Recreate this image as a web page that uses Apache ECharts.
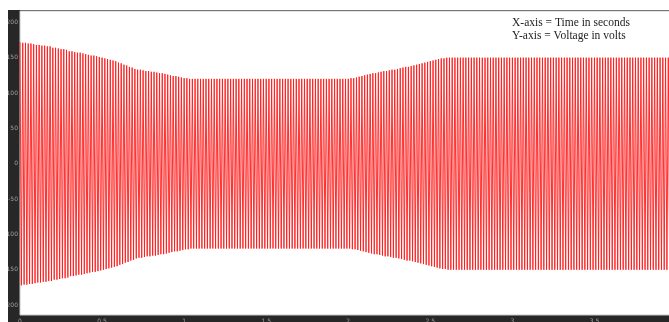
<!DOCTYPE html>
<html>
<head>
<meta charset="utf-8">
<script src="https://cdn.jsdelivr.net/npm/echarts@6/dist/echarts.min.js"></script>
<style>
  html, body { margin: 0; padding: 0; background: #ffffff; overflow: hidden; }
  #chart { position: absolute; left: 8px; top: 10px; width: 690px; height: 312px; }
</style>
</head>
<body>
<div id="chart"></div>
<script>
// peak voltage of each 60 Hz cycle (volts)
const peakVolts = [
  172, 171, 171, 170, 170, 169, 168, 168, 167, 167, 166, 166,
  164, 164, 163, 162, 162, 161, 159, 159, 158, 157, 157, 156,
  155, 154, 153, 153, 152, 151, 150, 149, 148, 147, 146, 145,
  143, 142, 140, 139, 137, 136, 134, 133, 133, 132, 131, 131,
  130, 130, 129, 128, 128, 127, 126, 125, 124, 124, 123, 122,
  121, 121, 120, 120, 120, 120, 120, 120, 120, 120, 120, 120,
  120, 120, 120, 120, 120, 120, 120, 120, 120, 120, 120, 120,
  120, 120, 120, 120, 120, 120, 120, 120, 120, 120, 120, 120,
  120, 120, 120, 120, 120, 120, 120, 120, 120, 120, 120, 120,
  120, 120, 120, 120, 120, 120, 120, 120, 120, 120, 120, 120,
  120, 121, 121, 122, 123, 124, 125, 126, 127, 128, 128, 129,
  130, 131, 131, 132, 133, 133, 134, 135, 136, 137, 137, 138,
  139, 140, 141, 142, 143, 144, 145, 146, 147, 148, 149, 149,
  150, 150, 150, 150, 150, 150, 150, 150, 150, 150, 150, 150,
  150, 150, 150, 150, 150, 150, 150, 150, 150, 150, 150, 150,
  150, 150, 150, 150, 150, 150, 150, 150, 150, 150, 150, 150,
  150, 150, 150, 150, 150, 150, 150, 150, 150, 150, 150, 150,
  150, 150, 150, 150, 150, 150, 150, 150, 150, 150, 150, 150,
  150, 150, 150, 150, 150, 150, 150, 150, 150, 150, 150, 150,
  150, 150, 150, 150, 150, 150, 150, 150, 150, 150, 150, 150
];
const cyclePeriod = 1 / 60; // seconds
const xTicks = [0, 0.5, 1, 1.5, 2, 2.5, 3, 3.5, 4];
const yTicks = [-200, -150, -100, -50, 0, 50, 100, 150, 200];
const notes = ["X-axis = Time in seconds", "Y-axis = Voltage in volts"];

// positive peak then negative peak for every cycle
const wave = [];
peakVolts.forEach((v, i) => {
  wave.push([i * cyclePeriod, v]);
  wave.push([i * cyclePeriod + cyclePeriod / 2, -v]);
});

const chart = echarts.init(document.getElementById("chart"));

chart.setOption({
  animation: false,
  backgroundColor: "#272727",
  grid: {
    left: 12,
    right: 21.5,
    top: 1,
    bottom: 7,
    outerBoundsMode: "none",
    containLabel: false,
    show: true,
    backgroundColor: "#ffffff",
    borderColor: "#c8c8c8",
    borderWidth: 1,
  },
  graphic: notes.map((t, i) => ({
    type: "text",
    left: 504,
    top: 7 + i * 12.5,
    silent: true,
    style: {
      text: t,
      font: '11.5px "Liberation Serif", "Times New Roman", serif',
      fill: "#222222",
    },
  })),
  xAxis: {
    type: "value",
    min: 0,
    max: 4,
    axisLine: { show: false },
    axisTick: { show: false },
    splitLine: { show: false },
    axisLabel: {
      customValues: xTicks,
      color: "#a0a0a0",
      fontSize: 6,
      margin: 3,
      fontFamily: "DejaVu Sans",
    },
  },
  yAxis: {
    type: "value",
    min: -214,
    max: 216,
    axisLine: { show: false },
    axisTick: { show: false },
    splitLine: { show: false },
    axisLabel: {
      customValues: yTicks,
      color: "#a0a0a0",
      fontSize: 6,
      margin: 2,
      fontFamily: "DejaVu Sans",
    },
  },
  series: [
    {
      type: "line",
      data: wave,
      showSymbol: false,
      silent: true,
      lineStyle: { color: "#ff1a1a", width: 0.9 },
    },
  ],
});
</script>
</body>
</html>
